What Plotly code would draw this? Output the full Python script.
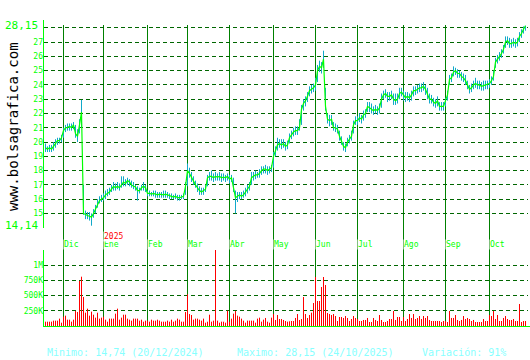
import plotly.graph_objects as go

W, H = 530, 360

# ---------------- data (one entry per trading day, 20/11/2024 .. 24/10/2025) ----------------
close = [
19.6,19.5,19.6,19.5,19.7,19.9,20.1,20.1,20.3,20.8,
21.0,21.0,21.1,21.0,21.2,20.6,20.4,21.2,22.1,15.0,
14.9,14.85,14.8,14.74,15.0,15.3,15.7,15.9,16.0,16.1,
16.3,16.4,16.5,16.7,16.9,16.8,16.9,16.8,17.0,17.2,
17.1,17.3,17.2,17.0,16.9,16.85,16.6,16.6,16.8,16.9,
16.8,16.4,16.4,16.35,16.4,16.35,16.3,16.35,16.3,16.3,
16.35,16.3,16.25,16.2,16.15,16.2,16.1,16.1,16.15,16.2,
16.9,18.0,17.8,17.5,17.3,17.0,16.8,16.6,16.5,16.6,
16.7,17.5,17.6,17.6,17.5,17.6,17.55,17.6,17.5,17.55,
17.5,17.6,17.4,17.5,16.9,16.1,16.2,16.3,16.2,16.3,
16.5,16.7,16.9,17.5,17.6,17.7,17.7,17.8,18.0,18.1,
18.1,18.0,18.1,18.2,19.0,19.4,19.8,19.9,19.8,19.9,
19.7,19.8,20.3,20.5,20.7,20.8,20.8,21.0,22.3,22.7,
22.9,23.2,23.6,23.7,23.8,24.0,25.0,25.3,25.2,25.8,
22.5,21.6,21.5,21.6,21.0,21.0,20.9,20.4,20.1,19.7,
19.6,20.0,20.2,20.4,21.2,21.5,21.5,21.7,21.6,21.9,
22.0,22.5,22.4,22.3,22.2,22.3,22.2,22.4,23.0,23.3,
23.4,23.2,23.2,23.3,23.0,22.9,23.0,23.4,23.5,23.3,
23.1,23.2,23.1,23.3,23.6,23.6,23.7,23.8,23.8,23.9,
23.7,23.4,23.0,23.0,22.8,22.7,22.9,22.5,22.5,22.5,
22.9,23.3,24.4,24.5,24.9,25.0,24.8,24.8,24.6,24.5,
24.3,24.0,23.7,23.8,24.0,24.1,24.0,24.0,23.9,23.95,
24.0,24.0,24.1,24.3,24.6,25.6,25.8,26.0,26.2,26.5,
27.0,27.1,26.9,26.9,27.0,26.9,27.0,27.4,27.6,27.9,
28.15]

high = [
19.9,19.7,19.8,19.8,20.0,20.2,20.3,20.3,20.5,21.0,
21.2,21.3,21.3,21.3,21.4,21.2,20.9,21.6,22.95,17.0,
15.2,15.1,15.1,15.0,15.3,15.6,16.0,16.2,16.3,16.4,
16.6,16.7,16.8,17.0,17.2,17.1,17.2,17.1,17.6,17.6,
17.4,17.5,17.4,17.3,17.2,17.0,16.9,16.8,17.0,17.2,
17.0,16.6,16.6,16.5,16.6,16.6,16.5,16.5,16.5,16.6,
16.6,16.5,16.4,16.4,16.3,16.4,16.3,16.3,16.3,16.4,
17.2,18.5,18.2,17.9,17.6,17.3,17.1,16.9,16.8,16.8,
17.0,17.7,17.9,18.0,17.8,17.9,17.8,17.9,17.8,17.8,
17.7,17.8,17.7,17.7,17.5,16.6,16.5,16.5,16.5,16.6,
16.8,17.0,17.2,17.9,17.9,18.0,17.9,18.1,18.3,18.3,
18.4,18.3,18.3,18.4,19.3,19.7,20.3,20.2,20.2,20.2,
20.0,20.1,20.6,20.8,21.0,21.1,21.1,21.6,22.6,23.0,
23.2,23.5,23.9,24.0,24.1,24.5,25.4,25.7,25.6,26.4,
23.8,22.0,21.9,21.9,21.4,21.3,21.2,20.8,20.4,20.0,
19.9,20.3,20.5,20.8,21.5,21.8,21.8,22.0,21.9,22.2,
22.3,22.8,22.8,22.7,22.5,22.6,22.5,22.7,23.4,23.6,
23.7,23.5,23.5,23.6,23.4,23.4,23.4,23.8,23.8,23.6,
23.5,23.5,23.4,23.6,23.9,23.9,24.0,24.1,24.1,24.2,
24.0,23.8,23.4,23.3,23.1,23.0,23.2,22.8,22.8,22.8,
23.1,23.6,24.7,24.8,25.3,25.2,25.1,25.0,24.9,24.8,
24.7,24.3,24.0,24.1,24.3,24.5,24.3,24.3,24.2,24.3,
24.3,24.3,24.4,24.6,25.0,25.9,26.1,26.3,26.5,26.8,
27.4,27.4,27.3,27.2,27.3,27.2,27.3,27.7,27.9,28.1,
28.15]

low = [
19.3,19.3,19.3,19.3,19.4,19.6,19.8,19.9,20.0,20.3,
20.7,20.8,20.8,20.8,20.9,20.3,20.0,20.6,21.0,14.9,
14.6,14.6,14.5,14.14,14.7,15.0,15.4,15.7,15.8,15.9,
16.0,16.2,16.3,16.5,16.6,16.6,16.7,16.6,16.8,16.9,
16.9,17.0,16.9,16.8,16.7,16.6,15.9,16.4,16.6,16.6,
16.5,16.2,16.2,16.2,16.2,16.1,16.1,16.1,16.1,16.1,
16.1,16.1,16.0,16.0,16.0,16.0,15.9,15.9,16.0,16.0,
16.3,16.9,17.5,17.2,17.0,16.8,16.5,16.3,16.3,16.3,
16.5,16.9,17.3,17.3,17.2,17.3,17.3,17.3,17.2,17.3,
17.2,17.3,17.1,17.2,16.5,15.0,15.8,16.0,16.0,16.1,
16.2,16.4,16.6,17.0,17.3,17.4,17.5,17.5,17.7,17.8,
17.8,17.7,17.8,17.9,18.2,19.0,19.4,19.6,19.5,19.6,
19.4,19.5,19.9,20.2,20.4,20.5,20.5,20.8,21.2,22.2,
22.5,22.8,23.2,23.4,23.5,23.6,24.2,24.9,24.8,25.2,
22.2,21.3,21.1,21.2,20.8,20.7,20.6,20.1,19.8,19.4,
19.3,19.7,19.9,20.1,20.6,21.2,21.2,21.4,21.3,21.5,
21.7,22.1,22.1,22.0,21.9,22.0,21.9,22.0,22.4,23.0,
23.1,22.8,22.9,23.0,22.6,22.6,22.7,23.0,23.2,22.9,
22.8,22.9,22.8,22.9,23.2,23.3,23.4,23.5,23.5,23.6,
23.3,23.0,22.7,22.7,22.5,22.4,22.5,22.2,22.2,22.2,
22.5,22.9,24.0,24.2,24.6,24.7,24.5,24.5,24.3,24.2,
24.0,23.7,23.4,23.5,23.7,23.8,23.7,23.7,23.6,23.6,
23.7,23.7,23.8,24.0,24.3,25.2,25.5,25.7,25.9,26.2,
26.6,26.8,26.6,26.6,26.7,26.6,26.7,27.0,27.3,27.6,
27.8]

# volume in thousands of shares
volume_k = [
71,71,71,71,88,88,88,121,55,153,
170,104,104,71,104,247,230,740,811,477,
219,285,170,236,186,137,219,121,137,153,
104,71,121,121,121,203,285,104,137,186,
186,121,104,88,121,121,121,88,104,71,
88,88,71,104,88,88,104,88,71,71,
71,88,71,104,71,88,121,104,71,71,
230,521,197,181,104,121,121,104,88,121,
55,71,186,71,88,1600,88,55,71,71,
55,252,71,121,203,247,170,153,121,88,
55,88,88,88,88,55,121,137,71,104,
132,71,55,137,197,99,181,115,115,99,
82,71,77,82,82,132,197,99,115,477,
197,132,181,219,378,806,411,411,641,806,
674,214,197,181,197,164,82,148,148,132,
164,132,82,115,164,132,115,82,82,99,
99,132,66,66,132,99,82,181,99,66,
66,82,115,115,247,99,148,148,82,148,
82,115,197,132,197,115,132,164,115,164,
132,164,99,82,82,82,82,82,66,82,
82,66,247,132,132,181,99,82,99,164,
115,132,115,82,99,66,66,66,66,115,
82,82,181,164,247,115,181,82,82,132,
164,115,99,99,115,82,82,362,66,82,
82]

month_names = ["Dic", "Ene", "Feb", "Mar", "Abr", "May", "Jun", "Jul", "Ago", "Sep", "Oct"]
month_start = [9, 29, 51, 71, 92, 114, 135, 156, 179, 200, 222]   # trading-day index of 1st session
year_label = "2025"
year_month = "Ene"

price_ticks = [15, 16, 17, 18, 19, 20, 21, 22, 23, 24, 25, 26, 27, 28]
price_min, price_max = 14.14, 28.15
vol_ticks = [250000, 500000, 750000, 1000000]
vol_tick_text = ["250K", "500K", "750K", "1M"]

min_text = "Minimo: 14,74 (20/12/2024)"
max_text = "Maximo: 28,15 (24/10/2025)"
var_text = "Variación: 91%"
site_text = "www.bolsagrafica.com"

# ---------------- figure ----------------
n = min(len(close), len(high), len(low), len(volume_k))
days = list(range(n))

def px_x(X):
    return X / W

def px_y(Y):
    return 1 - Y / H

GREEN = "#00ff00"
GRID = "#006600"
VLINE = "#008000"
TEAL = "#11a9c9"
RED = "#ff0000"
MONO = "DejaVu Sans Mono"

fig = go.Figure()

# high-low bars
hx, hy = [], []
for i in range(n):
    hx += [days[i], days[i], None]
    hy += [low[i], high[i], None]
fig.add_trace(go.Scatter(x=hx, y=hy, mode="lines", line=dict(color=TEAL, width=1),
                         xaxis="x", yaxis="y", hoverinfo="skip", showlegend=False))
# close line
fig.add_trace(go.Scatter(x=days, y=close[:n], mode="lines", line=dict(color=GREEN, width=1.2),
                         xaxis="x", yaxis="y", showlegend=False))
# volume (1-px sticks from zero)
vx, vy = [], []
for i in range(n):
    vx += [days[i], days[i], None]
    vy += [0, volume_k[i] * 1000, None]
fig.add_trace(go.Scatter(x=vx, y=vy, mode="lines", line=dict(color=RED, width=1),
                         xaxis="x2", yaxis="y2", hoverinfo="skip", showlegend=False))

x_dom = [px_x(44), px_x(528)]
x_rng = [-0.75, 241.25]
price_rng = [14.07, 28.22]

fig.update_layout(
    width=W, height=H,
    margin=dict(l=0, r=0, t=0, b=0),
    paper_bgcolor="white", plot_bgcolor="white",
    xaxis=dict(domain=x_dom, range=x_rng, showgrid=False, zeroline=False,
               showticklabels=False, showline=False, anchor="y"),
    yaxis=dict(domain=[px_y(226.7), px_y(24.7)], range=price_rng,
               tickvals=[price_min] + price_ticks + [price_max],
               ticktext=[""] + [str(t) if t != 28 else "" for t in price_ticks] + [""],
               showgrid=True, gridcolor=GRID, griddash="4px,3px", gridwidth=1,
               zeroline=False, showline=False, ticks="",
               tickfont=dict(family=MONO, size=8, color=GREEN), anchor="x"),
    xaxis2=dict(domain=x_dom, range=x_rng, showgrid=False, zeroline=False,
                showticklabels=False, showline=False, anchor="y2"),
    yaxis2=dict(domain=[px_y(326), px_y(250)], range=[0, 1250000],
                tickvals=vol_ticks, ticktext=vol_tick_text,
                showgrid=True, gridcolor=GRID, griddash="4px,3px", gridwidth=1,
                zeroline=False, showline=False, ticks="",
                tickfont=dict(family=MONO, size=8, color=GREEN), anchor="x2"),
)

shapes = []
# month vertical lines spanning both panels
for m in month_start:
    shapes.append(dict(type="line", xref="x", yref="paper", x0=m, x1=m,
                       y0=px_y(326), y1=px_y(25), line=dict(color=VLINE, width=1), layer="below"))
# left axis lines and volume baseline
shapes.append(dict(type="line", xref="paper", yref="paper", x0=px_x(43.5), x1=px_x(43.5),
                   y0=px_y(228), y1=px_y(20), line=dict(color=GREEN, width=1)))
shapes.append(dict(type="line", xref="paper", yref="paper", x0=px_x(43.5), x1=px_x(43.5),
                   y0=px_y(327), y1=px_y(250), line=dict(color=GREEN, width=1)))
shapes.append(dict(type="line", xref="paper", yref="paper", x0=px_x(43), x1=1,
                   y0=px_y(326.5), y1=px_y(326.5), line=dict(color=GREEN, width=1)))
fig.update_layout(shapes=shapes)

ann = []
# extreme price labels
ann.append(dict(xref="paper", yref="y", x=px_x(40), y=price_max, text="28,15", showarrow=False,
                xanchor="right", yanchor="middle", font=dict(family=MONO, size=11, color=GREEN)))
ann.append(dict(xref="paper", yref="y", x=px_x(40), y=price_min, text="14,14", showarrow=False,
                xanchor="right", yanchor="middle", font=dict(family=MONO, size=11, color=GREEN)))
# month labels
for name, m in zip(month_names, month_start):
    ann.append(dict(xref="x", yref="paper", x=m, y=px_y(244.5), text=name, showarrow=False,
                    xanchor="left", yanchor="middle", xshift=-1, bgcolor="white", borderpad=0,
                    font=dict(family=MONO, size=8, color=GREEN)))
ann.append(dict(xref="x", yref="paper", x=month_start[month_names.index(year_month)], y=px_y(236),
                text=year_label, showarrow=False, xanchor="left", yanchor="middle", xshift=-1,
                bgcolor="white", borderpad=0, font=dict(family=MONO, size=8, color=RED)))
# footer
for txt, X in [(min_text, 45), (max_text, 235), (var_text, 420)]:
    ann.append(dict(xref="paper", yref="paper", x=px_x(X), y=px_y(352), text=txt, showarrow=False,
                    xanchor="left", yanchor="middle", font=dict(family=MONO, size=10, color="#88ffff")))
# vertical site name
ann.append(dict(xref="paper", yref="paper", x=px_x(13), y=px_y(127), text=site_text, showarrow=False,
                textangle=-90, xanchor="center", yanchor="middle",
                font=dict(family=MONO, size=14, color="black")))
fig.update_layout(annotations=ann)

fig.write_html("out.html")
